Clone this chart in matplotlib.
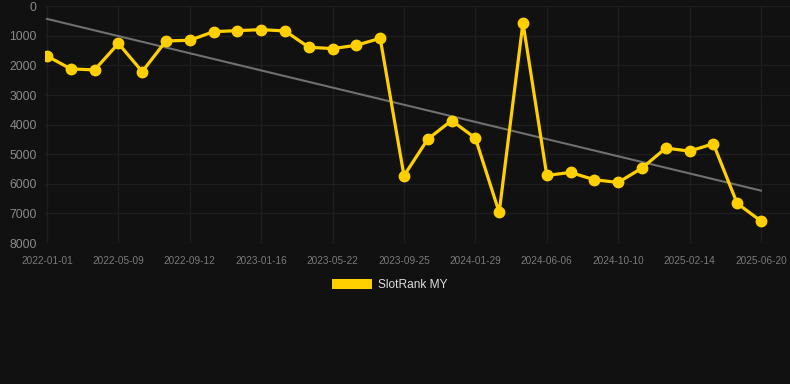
import numpy as np
import matplotlib
matplotlib.use('Agg')
import matplotlib.pyplot as plt
from matplotlib.patches import Patch

plt.rcParams['font.family'] = ['Liberation Sans', 'DejaVu Sans']

# rank values, one point every ~6 weeks
rank = [1680, 2116, 2150, 1255, 2207, 1171, 1148, 857, 823, 789,
        833, 1384, 1430, 1317, 1081, 5727, 4490, 3860, 4456, 6965,
        553, 5716, 5615, 5863, 5953, 5468, 4793, 4894, 4647, 6662,
        7257]
tick_labels = ['2022-01-01', '2022-05-09', '2022-09-12', '2023-01-16',
               '2023-05-22', '2023-09-25', '2024-01-29', '2024-06-06',
               '2024-10-10', '2025-02-14', '2025-06-20']

bg = '#111111'
gold = '#FFD000'

x = np.arange(len(rank))
y = np.array(rank, dtype=float)

fig = plt.figure(figsize=(7.9, 3.84), dpi=100, facecolor=bg)
ax = fig.add_axes([45/790, 141/384, 745/790, 236.7/384])
ax.set_facecolor(bg)

# trend line (least squares)
k, b0 = np.polyfit(x, y, 1)
ax.plot([x[0], x[-1]], [b0, k*x[-1] + b0], color='#707070', lw=1.5, zorder=2)

ax.plot(x, y, color=gold, lw=2.3, marker='o', ms=7.5, solid_joinstyle='miter',
        zorder=3)

ax.set_xlim(-0.084, 31.22)
ax.set_ylim(8000, 0)
ax.set_yticks(np.arange(0, 8001, 1000))
ax.set_xticks(x[::3])
ax.set_xticklabels(tick_labels)

ax.grid(True, color='#1e1e1e', lw=1.0)
ax.set_axisbelow(True)
for s in ax.spines.values():
    s.set_visible(False)
ax.tick_params(axis='both', length=0)
ax.tick_params(axis='y', labelsize=8.8, labelcolor='#8a8a8a', pad=6)
ax.tick_params(axis='x', labelsize=7.2, labelcolor='#7a7a7a', pad=9)

fig.legend(handles=[Patch(facecolor=gold, edgecolor='none', label='SlotRank MY')],
           loc='center', bbox_to_anchor=(0.493, 0.258), frameon=False,
           fontsize=8.6, labelcolor='#dddddd', handlelength=3.33,
           handleheight=1.0, handletextpad=0.5)

fig.savefig('out.png', dpi=100, facecolor=bg)
